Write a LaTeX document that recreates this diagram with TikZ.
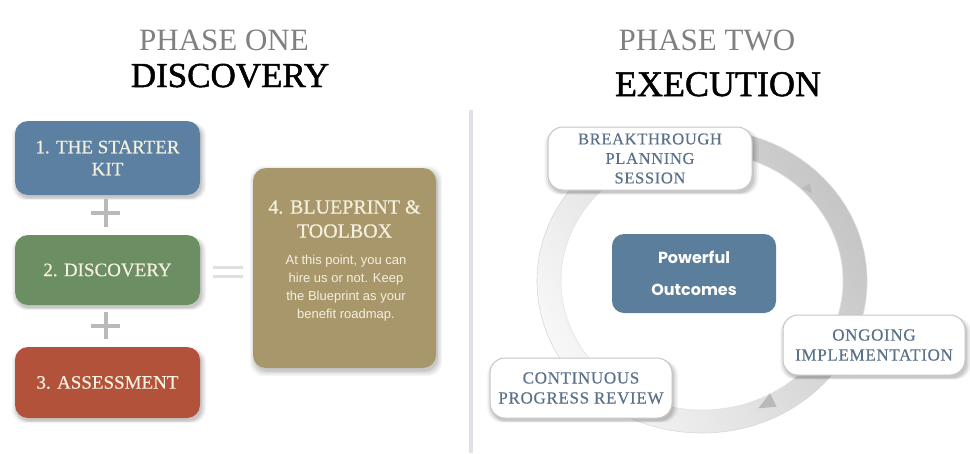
\documentclass[tikz,border=0pt]{standalone}
\usepackage{fontspec}
\setmainfont{Liberation Serif}
\newfontfamily\sansf{Liberation Sans}
\newfontfamily\popf{Poppins}
\newfontfamily\heavyf[FakeBold=1.4]{Liberation Serif}
\newfontfamily\semif[FakeBold=0.5]{Liberation Serif}
\newfontfamily\spacedf[LetterSpace=4,FakeBold=0.4]{Liberation Serif}
\usetikzlibrary{shadows}
\definecolor{bluebox}{HTML}{5B80A2}
\definecolor{greenbox}{HTML}{6B8E63}
\definecolor{redbox}{HTML}{B2523B}
\definecolor{olivebox}{HTML}{A8976B}
\definecolor{slate}{HTML}{5A7189}
\definecolor{pobox}{HTML}{5B7E9C}
\definecolor{cream}{HTML}{F4F0DE}
\definecolor{divider}{HTML}{E0E0E6}
\definecolor{phasegray}{HTML}{808080}
\tikzset{
  softshadow/.style={
    drop shadow={shadow xshift=1.5pt, shadow yshift=-3pt, shadow scale=1.05, fill=black, opacity=0.04},
    drop shadow={shadow xshift=1.5pt, shadow yshift=-3pt, shadow scale=1.035, fill=black, opacity=0.05},
    drop shadow={shadow xshift=1.5pt, shadow yshift=-3pt, shadow scale=1.02, fill=black, opacity=0.06},
    drop shadow={shadow xshift=1.5pt, shadow yshift=-3pt, shadow scale=1.005, fill=black, opacity=0.08}},
  phasebox/.style={rectangle, rounded corners=13pt, draw=none, text=cream, align=center,
    font=\semif\fontsize{19}{22}\selectfont, softshadow},
  cyclebox/.style={rectangle, rounded corners=15pt, fill=white, draw=gray!45, line width=1pt,
    text=slate, align=center, font=\spacedf\fontsize{16.5}{19.5}\selectfont, softshadow},
  phasetitle/.style={anchor=base, text=phasegray, font=\fontsize{31}{31}\selectfont},
  bigtitle/.style={anchor=base, text=black, font=\heavyf\fontsize{35}{35}\selectfont},
  plusline/.style={line width=4pt, draw=gray!55},
  equalline/.style={line width=3pt, draw=gray!25},
}
\begin{document}
\begin{tikzpicture}[x=1pt,y=1pt]
\fill[white] (0,0) rectangle (970,-453);
\useasboundingbox (0,0) rectangle (970,-453);

% titles
\node[phasetitle] (p1) at (224,-50) {PHASE ONE};
\node[bigtitle] (t1) at (230,-87) {DISCOVERY};
\node[phasetitle] (p2) at (707,-50) {PHASE TWO};
\node[bigtitle, font=\heavyf\fontsize{36}{36}\selectfont] (t2) at (718,-96) {EXECUTION};

% divider
\draw[line width=4pt, divider] (471,-110) -- (471,-453);

% phase one boxes
\node[phasebox, fill=bluebox, minimum width=185pt, minimum height=74pt] (b1) at (107.5,-158) {1. THE STARTER\\KIT};
\node[phasebox, fill=greenbox, minimum width=185pt, minimum height=70pt] (b2) at (107.5,-270) {2. DISCOVERY};
\node[phasebox, fill=redbox, minimum width=185pt, minimum height=71pt] (b3) at (107.5,-382.5) {3. ASSESSMENT};
\node[phasebox, fill=olivebox, minimum width=183pt, minimum height=200pt] (b4) at (344.5,-268) {};
\node[text=cream, align=center, anchor=north, font=\semif\fontsize{20}{24}\selectfont, inner sep=0pt] (b4t) at (344.5,-200)
  {4. BLUEPRINT \&\\TOOLBOX};
\node[text=cream, align=center, anchor=north, font=\sansf\fontsize{13}{17.8}\selectfont, inner sep=0pt] (b4b) at (346,-255)
  {At this point, you can\\hire us or not. Keep\\the Blueprint as your\\benefit roadmap.};

% plus and equals
\draw[plusline] (91,-213) -- (120,-213);
\draw[plusline] (105.5,-199) -- (105.5,-227);
\draw[plusline] (91,-326) -- (120,-326);
\draw[plusline] (105.5,-312) -- (105.5,-339);
\draw[equalline] (213,-267.5) -- (243,-267.5);
\draw[equalline] (213,-276) -- (243,-276);

% ring
\shade[even odd rule, left color=gray!6, right color=gray!45, shading angle=120]
  (702,-281) ellipse [x radius=165, y radius=152]
  (702,-281) ellipse [x radius=141, y radius=129];
\draw[gray!30, line width=0.6pt] (702,-281) ellipse [x radius=165, y radius=152];
\draw[gray!22, line width=0.6pt] (702,-281) ellipse [x radius=141, y radius=129];
\fill[gray!55] (801.7,-188.3) -- (810,-183.3) -- (811.7,-193.3) -- cycle;
\fill[gray!55] (758.3,-408.3) -- (770,-393.3) -- (776.7,-406.7) -- cycle;

% phase two boxes
\node[cyclebox, minimum width=204pt, minimum height=63pt] (bps) at (650,-158.5) {BREAKTHROUGH\\PLANNING\\SESSION};
\node[rectangle, rounded corners=12pt, fill=pobox, text=white, align=center,
  font=\popf\bfseries\fontsize{16}{32}\selectfont, minimum width=164pt, minimum height=79pt] (po) at (694,-273.5) {Powerful\\Outcomes};
\node[cyclebox, minimum width=182pt, minimum height=60pt, font=\spacedf\fontsize{17}{20}\selectfont] (oi) at (874,-345) {ONGOING\\IMPLEMENTATION};
\node[cyclebox, minimum width=182pt, minimum height=60pt, font=\spacedf\fontsize{17}{20}\selectfont] (cpr) at (581,-388) {CONTINUOUS\\PROGRESS REVIEW};
\end{tikzpicture}
\end{document}
